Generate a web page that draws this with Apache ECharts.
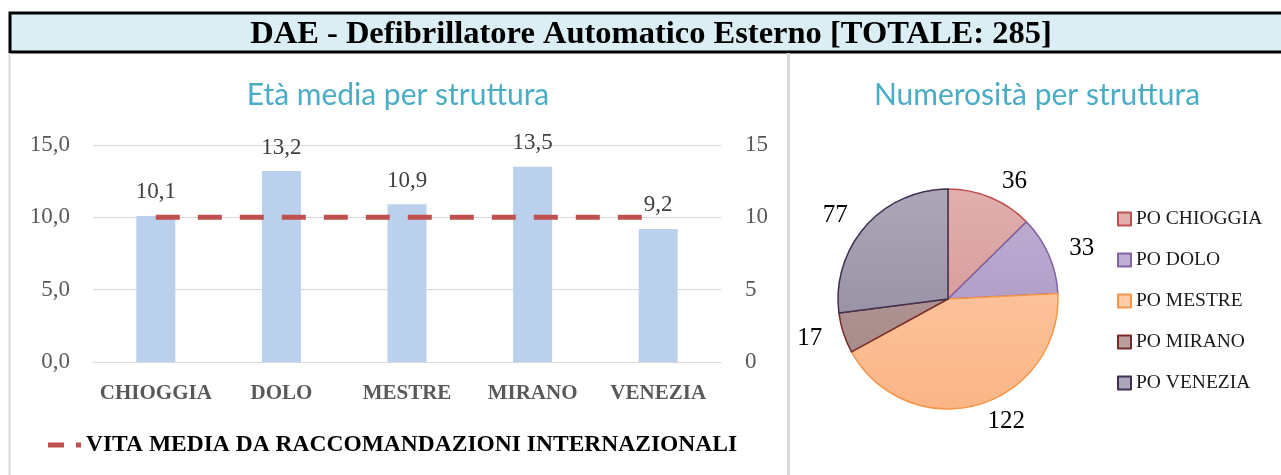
<!DOCTYPE html>
<html>
<head>
<meta charset="utf-8">
<script src="https://cdn.jsdelivr.net/npm/echarts@6/dist/echarts.min.js"></script>
<style>
  html, body { margin: 0; padding: 0; background: #fff; }
  #main { width: 1281px; height: 475px; }
</style>
</head>
<body>
<div id="main"></div>
<script>
// dati
const categorie = ['CHIOGGIA', 'DOLO', 'MESTRE', 'MIRANO', 'VENEZIA']
const etaMedia = [10.1, 13.2, 10.9, 13.5, 9.2]
const vitaMedia = [10, 10, 10, 10, 10]
const strutture = ['PO CHIOGGIA', 'PO DOLO', 'PO MESTRE', 'PO MIRANO', 'PO VENEZIA']
const numerosita = [36, 33, 122, 17, 77]
const totale = 285

const serif = '"Liberation Serif", "DejaVu Serif", serif'

// colori delle fette: [alto, basso, bordo]
const coloriFette = [
  ['#e0afae', '#d28e8c', '#c0504d'],
  ['#beafd3', '#a690c0', '#8064a2'],
  ['#fdcdac', '#fbb586', '#f79646'],
  ['#b8a09f', '#a28584', '#772c2a'],
  ['#aca6b8', '#8c8599', '#403152']
]

function grad(c) {
  return {
    type: 'linear', x: 0, y: 190, x2: 0, y2: 410, global: true,
    colorStops: [{ offset: 0, color: c[0] }, { offset: 1, color: c[1] }]
  }
}

const myChart = echarts.init(document.getElementById('main'))
const option = {
  animation: false,
  graphic: [
    { type: 'rect', z: 0, shape: { x: 10, y: 13, width: 1290, height: 39 },
      style: { fill: '#dbeef4', stroke: '#000', lineWidth: 3 } },
    { type: 'line', z: 0, shape: { x1: 9.5, y1: 53, x2: 9.5, y2: 475 },
      style: { stroke: '#d9d9d9', lineWidth: 2 } },
    { type: 'line', z: 0, shape: { x1: 788.5, y1: 53, x2: 788.5, y2: 475 },
      style: { stroke: '#d9d9d9', lineWidth: 3 } }
  ],
  title: [
    {
      text: 'DAE - Defibrillatore Automatico Esterno [TOTALE: ' + totale + ']',
      left: 651, top: 18, textAlign: 'center', padding: 0,
      textStyle: { fontFamily: serif, fontWeight: 'bold', fontSize: 32.5, color: '#000' }
    },
    {
      text: 'Età media per struttura',
      left: 398, top: 80, textAlign: 'center', padding: 0,
      textStyle: { fontFamily: 'Lato, "Open Sans", sans-serif', fontWeight: 'normal', fontSize: 30, color: '#4bacc6' }
    },
    {
      text: 'Numerosità per struttura',
      left: 1037, top: 80, textAlign: 'center', padding: 0,
      textStyle: { fontFamily: 'Lato, "Open Sans", sans-serif', fontWeight: 'normal', fontSize: 30, color: '#4bacc6' }
    }
  ],
  legend: [
    {
      data: ['VITA MEDIA DA RACCOMANDAZIONI INTERNAZIONALI'],
      left: 43, top: 428,
      icon: 'path://M0,0H16V5H0Z M28,0H33V5H28Z',
      itemWidth: 33, itemHeight: 5, itemGap: 4,
      textStyle: { fontFamily: serif, fontWeight: 'bold', fontSize: 23.5, color: '#000' }
    },
    {
      data: strutture,
      orient: 'vertical', left: 1112, top: 204,
      icon: 'rect', itemWidth: 13, itemHeight: 13, itemGap: 21,
      textStyle: { fontFamily: serif, fontSize: 19.5, color: '#1a1a1a' }
    }
  ],
  grid: { left: 93, right: 560, top: 145, bottom: 113 },
  xAxis: {
    type: 'category',
    data: categorie,
    axisTick: { show: false },
    axisLine: { lineStyle: { color: '#d9d9d9', width: 1 } },
    axisLabel: { interval: 0, fontFamily: serif, fontWeight: 'bold', fontSize: 21, color: '#595959', margin: 21 }
  },
  yAxis: [
    {
      type: 'value', min: 0, max: 15, interval: 5, position: 'left',
      axisLine: { show: false }, axisTick: { show: false },
      splitLine: { lineStyle: { color: '#d9d9d9', width: 1 } },
      axisLabel: {
        fontFamily: serif, fontSize: 23, color: '#595959', margin: 23,
        formatter: v => v.toFixed(1).replace('.', ',')
      }
    },
    {
      type: 'value', min: 0, max: 15, interval: 5, position: 'right',
      axisLine: { show: false }, axisTick: { show: false },
      splitLine: { show: false },
      axisLabel: { fontFamily: serif, fontSize: 23, color: '#595959', margin: 24 }
    }
  ],
  series: [
    {
      type: 'bar',
      name: 'Età media',
      data: etaMedia,
      barWidth: 39,
      itemStyle: { color: '#bad0ec' },
      label: {
        show: true, position: 'top', distance: 12,
        fontFamily: serif, fontSize: 23, color: '#404040',
        formatter: p => p.value.toFixed(1).replace('.', ',')
      }
    },
    {
      type: 'line',
      name: 'VITA MEDIA DA RACCOMANDAZIONI INTERNAZIONALI',
      yAxisIndex: 1,
      data: vitaMedia,
      symbol: 'none',
      z: 5,
      itemStyle: { color: '#c0504d' },
      lineStyle: { color: '#c0504d', width: 5, type: [24, 18], cap: 'butt' }
    },
    {
      type: 'pie',
      name: 'Numerosità',
      center: [948, 299],
      radius: 110,
      startAngle: 90,
      clockwise: true,
      avoidLabelOverlap: false,
      label: { show: true, position: 'outside', fontFamily: serif, fontSize: 25, color: '#000', formatter: '{c}' },
      labelLine: { show: false, length: 17, length2: 0 },
      emphasis: { disabled: true },
      data: strutture.map((s, i) => ({
        name: s,
        value: numerosita[i],
        itemStyle: { color: grad(coloriFette[i]), borderColor: coloriFette[i][2], borderWidth: 1.5 }
      }))
    }
  ]
}
myChart.setOption(option)
</script>
</body>
</html>
